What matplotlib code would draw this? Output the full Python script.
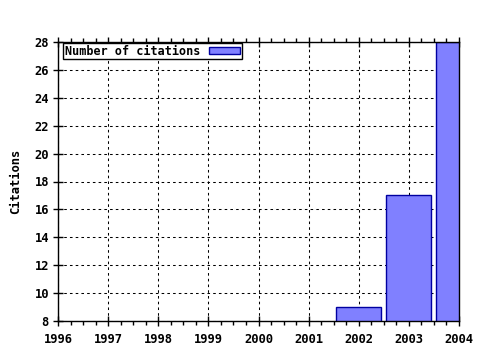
import matplotlib
matplotlib.use("Agg")
import matplotlib.pyplot as plt
from matplotlib.ticker import MultipleLocator

years = [2002, 2003, 2004]
citations = [9, 17, 28]
xticks = [1996, 1997, 1998, 1999, 2000, 2001, 2002, 2003, 2004]
yticks = [8, 10, 12, 14, 16, 18, 20, 22, 24, 26, 28]

plt.rcParams['font.family'] = ['DejaVu Sans Mono']
plt.rcParams['font.weight'] = 'bold'

fig = plt.figure(figsize=(4.8, 3.5), dpi=100)
ax = fig.add_axes([58/480, 29/350, 401/480, 279/350])

ax.bar(years, citations, width=0.9, color='#8080ff', edgecolor='#0000a0',
       linewidth=1.0, label='Number of citations', zorder=3)

ax.set_xlim(1996, 2004)
ax.set_ylim(8, 28)
ax.set_xticks(xticks)
ax.set_xticklabels([str(t) for t in xticks])
ax.set_yticks(yticks)
ax.xaxis.set_minor_locator(MultipleLocator(0.25))

ax.grid(True, which='major', color='black', linestyle=(0, (2.5, 3)), linewidth=0.75, zorder=1)

for s in ax.spines.values():
    s.set_color('black')
    s.set_linewidth(1.0)
    s.set_zorder(4)

ax.tick_params(axis='x', which='major', direction='inout', length=7, width=1,
               top=True, labelsize=8.7, pad=5)
ax.tick_params(axis='x', which='minor', direction='out', length=3, width=1, top=True)
ax.tick_params(axis='y', which='major', direction='inout', length=7, width=1,
               right=False, labelsize=8.7, pad=3)

ax.set_ylabel('Citations', fontsize=8.7, fontweight='bold', labelpad=9)

leg = ax.legend(loc='upper left', bbox_to_anchor=(0.012, 0.997), markerfirst=False,
                fancybox=False, frameon=True, framealpha=1, edgecolor='black',
                fontsize=8.5, borderpad=0.15, handlelength=2.6, handleheight=0.6,
                borderaxespad=0.0, handletextpad=0.8)
leg.get_frame().set_linewidth(1.0)
leg.set_zorder(5)

fig.savefig('out.png', dpi=100)
